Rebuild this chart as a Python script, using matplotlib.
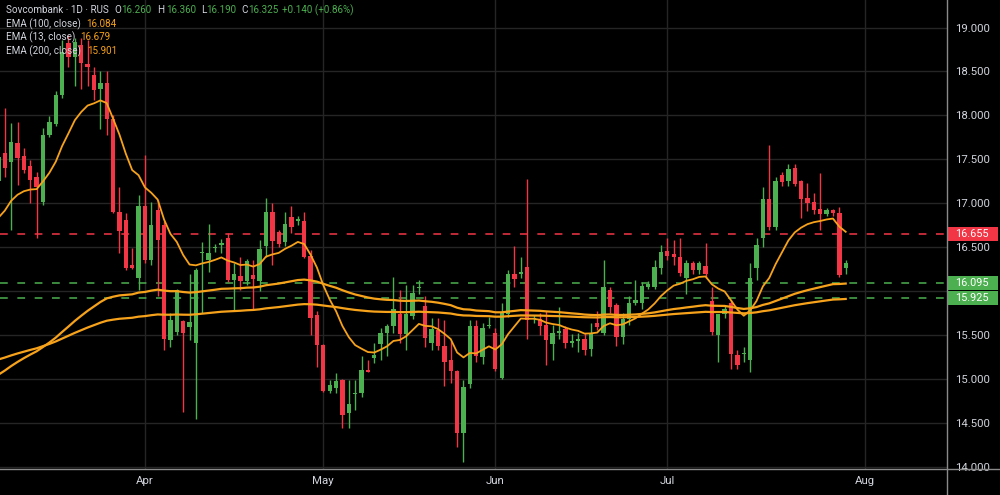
import numpy as np
import matplotlib.pyplot as plt
from matplotlib.lines import Line2D
from matplotlib.patches import Rectangle
import matplotlib.transforms as mtransforms

plt.rcParams['font.family'] = ['Roboto', 'DejaVu Sans']

# daily candles (first bar is early March)
opens = [17.25, 17.57, 17.47, 17.69, 17.54, 17.43, 17.30, 17.02, 17.78, 17.90,
         18.23, 18.82, 18.67, 18.80, 18.58, 18.46, 18.30, 18.37, 17.96, 16.90,
         16.81, 16.30, 16.15, 16.97, 16.35, 16.92, 16.75, 15.44, 15.54, 15.66,
         15.59, 15.41, 16.43, 16.35, 16.49, 16.53, 16.60, 16.13, 16.17, 16.12,
         16.18, 16.12, 16.51, 16.90, 16.67, 16.56, 16.84, 16.80, 16.80, 16.40,
         15.73, 15.39, 14.86, 14.90, 14.99, 14.61, 14.83, 14.84, 15.10, 15.24,
         15.40, 15.53, 15.60, 15.74, 15.51, 15.72, 16.04, 15.83, 15.41, 15.56,
         15.38, 15.22, 15.09, 14.39, 14.94, 15.60, 15.25, 15.60, 15.52, 15.01,
         15.74, 16.20, 16.19, 16.28, 15.68, 15.68, 15.61, 15.40, 15.53, 15.57,
         15.41, 15.43, 15.46, 15.34, 15.64, 15.52, 16.01, 15.84, 15.48, 15.68,
         15.87, 15.87, 16.05, 16.05, 16.26, 16.46, 16.42, 16.39, 16.15, 16.32,
         16.24, 16.29, 15.89, 15.50, 15.74, 15.86, 15.27, 15.29, 15.22, 16.26,
         16.60, 17.05, 16.73, 17.32, 17.25, 17.40, 17.25, 17.06, 17.02, 16.94,
         16.88, 16.92, 16.89, 16.26]
highs = [17.60, 18.08, 17.91, 17.93, 17.63, 17.49, 17.36, 17.86, 17.99, 18.28,
         18.86, 18.92, 18.88, 18.88, 18.86, 18.55, 18.50, 18.50, 18.00, 17.19,
         16.89, 16.49, 17.09, 17.55, 17.02, 17.04, 16.80, 15.75, 16.03, 15.67,
         16.20, 16.26, 16.56, 16.77, 16.54, 16.59, 16.66, 16.32, 16.39, 16.37,
         16.36, 16.58, 17.06, 17.00, 16.70, 16.90, 16.97, 16.85, 16.90, 16.47,
         15.77, 15.40, 14.99, 15.07, 15.00, 14.99, 14.99, 15.26, 15.22, 15.41,
         15.58, 15.63, 16.16, 16.01, 16.07, 16.07, 16.13, 15.94, 15.69, 15.69,
         15.67, 15.43, 15.10, 14.99, 15.67, 15.67, 15.64, 15.71, 15.58, 15.86,
         16.24, 16.51, 16.39, 17.28, 15.73, 15.75, 15.77, 15.62, 15.82, 15.60,
         15.51, 15.52, 15.52, 15.64, 15.77, 16.36, 16.05, 15.86, 15.75, 15.94,
         16.13, 16.11, 16.12, 16.36, 16.53, 16.60, 16.58, 16.60, 16.35, 16.34,
         16.34, 16.55, 16.05, 15.74, 15.84, 15.90, 15.33, 15.36, 16.32, 16.60,
         17.19, 17.66, 17.30, 17.36, 17.45, 17.45, 17.27, 17.23, 17.12, 17.34,
         16.95, 16.94, 16.96, 16.36]
lows = [17.15, 17.30, 16.70, 17.21, 17.34, 17.00, 16.61, 16.98, 17.75, 17.88,
        18.20, 18.55, 18.33, 18.30, 18.33, 18.18, 17.85, 17.78, 16.89, 16.43,
        16.24, 16.25, 16.01, 16.32, 16.30, 15.94, 15.33, 15.37, 15.50, 14.63,
        15.44, 14.55, 15.75, 16.22, 16.45, 16.43, 16.11, 15.79, 16.01, 16.07,
        15.79, 16.00, 16.39, 16.30, 16.50, 16.51, 16.66, 16.75, 16.38, 15.50,
        15.14, 14.85, 14.84, 14.84, 14.44, 14.44, 14.65, 14.80, 15.08, 15.18,
        15.22, 15.26, 15.52, 15.41, 15.33, 15.68, 15.97, 15.37, 15.33, 15.33,
        14.92, 14.95, 14.23, 14.06, 14.90, 15.20, 15.17, 15.58, 15.09, 15.00,
        15.71, 16.05, 16.15, 15.46, 15.64, 15.50, 15.16, 15.22, 15.46, 15.35,
        15.37, 15.31, 15.27, 15.26, 15.56, 15.50, 15.75, 15.38, 15.40, 15.62,
        15.84, 15.80, 16.02, 16.03, 16.20, 16.35, 16.30, 16.17, 15.97, 16.20,
        16.20, 16.15, 15.50, 15.20, 15.70, 15.12, 15.12, 15.20, 15.08, 16.13,
        16.50, 16.70, 16.70, 17.20, 17.20, 17.20, 16.83, 16.91, 16.88, 16.70,
        16.85, 16.86, 16.16, 16.19]
closes = [17.53, 17.40, 17.70, 17.51, 17.38, 17.27, 17.19, 17.78, 17.93, 18.23,
          18.72, 18.67, 18.84, 18.60, 18.55, 18.29, 18.37, 17.96, 16.90, 16.69,
          16.26, 16.26, 16.97, 16.35, 16.75, 16.58, 15.46, 15.67, 16.01, 15.52,
          15.65, 16.24, 16.45, 16.43, 16.50, 16.55, 16.13, 16.20, 16.12, 16.34,
          16.14, 16.48, 16.90, 16.57, 16.54, 16.76, 16.73, 16.82, 16.39, 15.69,
          15.39, 14.86, 14.93, 14.98, 14.59, 14.72, 14.84, 15.10, 15.08, 15.27,
          15.53, 15.60, 15.80, 15.51, 15.74, 15.98, 16.05, 15.47, 15.57, 15.38,
          15.20, 15.09, 14.39, 14.91, 15.60, 15.26, 15.58, 15.61, 15.12, 15.75,
          16.20, 16.14, 16.22, 15.67, 15.69, 15.60, 15.45, 15.53, 15.55, 15.41,
          15.43, 15.46, 15.33, 15.53, 15.59, 16.05, 15.82, 15.48, 15.68, 15.86,
          15.90, 16.06, 16.08, 16.27, 16.45, 16.40, 16.39, 16.21, 16.32, 16.24,
          16.32, 16.20, 15.54, 15.74, 15.80, 15.29, 15.16, 15.30, 16.15, 16.53,
          17.05, 16.73, 17.25, 17.24, 17.39, 17.22, 17.05, 17.00, 16.92, 16.88,
          16.92, 16.89, 16.18, 16.325]

# first bar of each month (bar index)
month_pos = [23, 51, 78, 105, 136]
month_labels = ['Apr', 'May', 'Jun', 'Jul', 'Aug']

# price scale
price_ticks = [14.0, 14.5, 15.0, 15.5, 16.0, 16.5, 17.0, 17.5, 18.0, 18.5, 19.0]

# horizontal levels on the right scale
levels = [16.655, 16.095, 15.925]
level_colors = ['#f23645', '#4caf50', '#4caf50']

# EMA settings and their value just before the first visible bar
ema_periods = [100, 13, 200]
ema_start = [15.00, 16.72, 15.20]

UP = '#4caf50'
DOWN = '#f23645'
EMA_COLOR = '#f7a21b'
TXT = '#d1d4dc'


def ema(values, period, start):
    alpha = 2.0 / (period + 1)
    out = []
    e = start
    for v in values:
        e = e + alpha * (v - e)
        out.append(e)
    return out


o = np.array(opens)
h = np.array(highs)
l = np.array(lows)
c = np.array(closes)
x = np.arange(len(c))
colors = [UP if cc >= oo else DOWN for oo, cc in zip(o, c)]

fig = plt.figure(figsize=(10, 4.95), dpi=100, facecolor='black')
ax = fig.add_axes([0, 26 / 495, 0.947, 469 / 495], facecolor='black')

# grid
for yv in price_ticks:
    ax.axhline(yv, color='#252525', lw=1, zorder=0)
for mp in month_pos:
    ax.axvline(mp, color='#252525', lw=1, zorder=0)

# level lines
for lv, lc in zip(levels, level_colors):
    ax.axhline(lv, color=lc, lw=1.3, ls=(0, (4.3, 5.3)), alpha=0.85, zorder=1)

# candles
ax.vlines(x, l, h, colors=colors, lw=1, zorder=2)
body = np.maximum(np.abs(c - o), 0.012)
ax.bar(x, body, bottom=np.minimum(o, c), width=0.68, color=colors,
       linewidth=0, zorder=3)

# EMAs
for per, st, lw in zip(ema_periods, ema_start, [1.6, 1.3, 1.6]):
    ax.plot(x, ema(closes, per, st), color=EMA_COLOR, lw=lw, zorder=4)

ax.set_xlim(0.25, 148.9)
ax.set_ylim(13.977, 19.313)

# scale labels hidden behind the level boxes are left out
ax.yaxis.tick_right()
ax.set_yticks(price_ticks)
ax.set_yticklabels(['' if min(abs(v - lv) for lv in levels) < 0.12
                    else '%.3f' % v for v in price_ticks])
ax.tick_params(axis='y', length=0, pad=6, labelcolor=TXT, labelsize=8.2)
ax.set_xticks(month_pos)
ax.set_xticklabels(month_labels)
ax.tick_params(axis='x', length=0, pad=5, labelcolor=TXT, labelsize=8.2)
for s in ax.spines.values():
    s.set_visible(False)

# axis border lines across the whole figure
fig.add_artist(Line2D([0, 1], [26 / 495, 26 / 495], color='#8a8a8a', lw=1,
                      transform=fig.transFigure))
fig.add_artist(Line2D([0.947, 0.947], [0, 1], color='#8a8a8a', lw=1,
                      transform=fig.transFigure))

# price labels for the levels
trans = mtransforms.blended_transform_factory(ax.transAxes, ax.transData)
for lv, lc in zip(levels, level_colors):
    ax.add_patch(Rectangle((1.001, lv - 0.08), 0.053, 0.16, transform=trans,
                           facecolor=lc, edgecolor='none', clip_on=False,
                           zorder=5))
    ax.text(1.0085, lv, '%.3f' % lv, transform=trans, color='white',
            fontsize=7.8, va='center', ha='left', clip_on=False, zorder=6)

# legend text, top left
def put(px, py, s, col):
    fig.text(px / 1000, 1 - py / 495, s, color=col, fontsize=7.1,
             va='center', ha='left')

put(6, 10, 'Sovcombank · 1D · RUS', TXT)
put(114, 10, 'O', TXT)
put(121, 10, '16.260', UP)
put(157, 10, 'H', TXT)
put(166, 10, '16.360', UP)
put(201, 10, 'L', TXT)
put(206, 10, '16.190', UP)
put(241, 10, 'C', TXT)
put(248, 10, '16.325', UP)
put(282, 10, '+0.140 (+0.86%)', UP)
put(6, 24, 'EMA (100, close)', TXT)
put(86, 24, '16.084', EMA_COLOR)
put(6, 37, 'EMA (13, close)', TXT)
put(80, 37, '16.679', EMA_COLOR)
put(6, 51, 'EMA (200, close)', TXT)
put(87, 51, '15.901', EMA_COLOR)

plt.savefig('out.png', dpi=100, facecolor='black')
